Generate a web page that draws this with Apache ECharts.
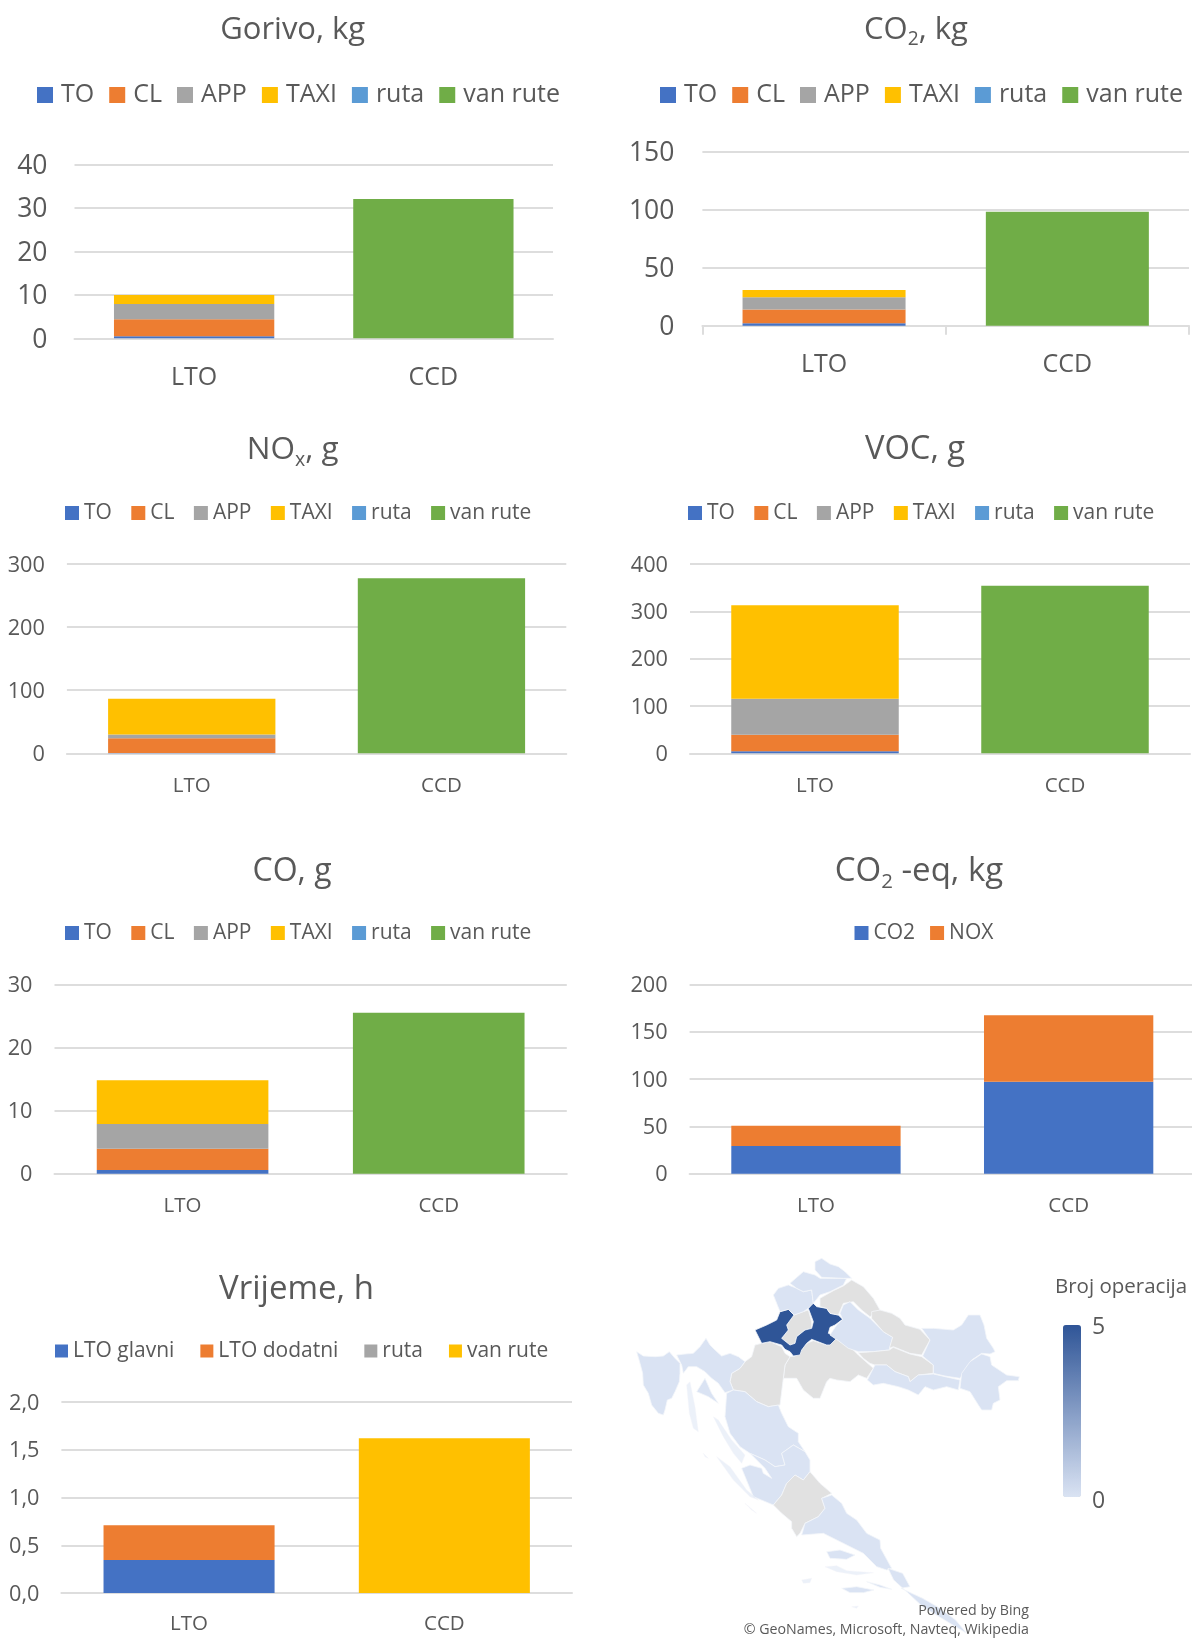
<!DOCTYPE html>
<html><head><meta charset="utf-8">
<style>html,body{margin:0;padding:0;background:#fff}#c{width:1192px;height:1638px}</style>
<script src="https://cdn.jsdelivr.net/npm/echarts@6/dist/echarts.min.js"></script>
</head><body><div id="c"></div>
<script>
// ---------- data ----------
const categories = ['LTO','CCD'];
const phaseNames = ['TO','CL','APP','TAXI','ruta','van rute'];
const eqNames = ['CO2','NOX'];
const timeNames = ['LTO glavni','LTO dodatni','ruta','van rute'];

const gorivoValues = [[0.5,0],[3.9,0],[3.5,0],[2.05,0],[0,0],[0,32]];
const co2Values    = [[2,0],[12,0],[10.4,0],[6.3,0],[0,0],[0,98]];
const noxValues    = [[0.5,0],[23.3,0],[5.8,0],[57,0],[0,0],[0,277.3]];
const vocValues    = [[4.2,0],[35.2,0],[76.1,0],[197.2,0],[0,0],[0,354]];
const coValues     = [[0.58,0],[3.38,0],[3.91,0],[6.93,0],[0,0],[0,25.5]];
const eqValues     = [[29.3,97],[21.4,70.3]];
const timeValues   = [[0.345,0],[0.364,0],[0,0],[0,1.62]];

const phaseColors = ['#4472C4','#ED7D31','#A5A5A5','#FFC000','#5B9BD5','#70AD47'];
const eqColors = ['#4472C4','#ED7D31'];
const timeColors = ['#4472C4','#ED7D31','#A5A5A5','#FFC000'];

const regionNames = ['Istra','Primorje','Lika','Zadar','Split','Dubrovnik','Krapina','Varazdin','Medimurje','Bjelovar','Brod','Osijek','Vukovar','ZagrebZup','Otoci'];
const regionOps   = [0,0,0,0,0,0,0,0,0,0,0,0,0,5,0];
const operationLabels = ['5','0'];

// outlines of the counties (no data values)
const regionShapes = {
 Sisak:[[[465,345],[480,320],[495,318],[515,300],[530,280],[550,272],[590,285],[615,262],[640,280],[670,300],[685,315],[730,355],[710,385],[685,375],[660,395],[620,390],[600,385],[590,395],[570,445],[550,445],[520,420],[500,385],[460,385]]],
 Karlovac:[[[305,370],[330,355],[345,335],[365,320],[375,285],[395,280],[420,275],[455,290],[465,310],[480,320],[465,345],[460,385],[450,465],[415,470],[380,455],[345,425],[310,420],[300,395]]],
 Istra:[[[20,305],[40,318],[75,320],[100,318],[118,305],[135,325],[150,340],[150,370],[148,395],[135,425],[125,445],[112,450],[105,480],[100,495],[85,490],[65,465],[55,430],[40,405],[38,370],[30,340]]],
 Primorje:[[[140,315],[165,312],[190,310],[210,290],[228,265],[240,285],[255,300],[275,318],[300,310],[325,320],[345,335],[330,355],[305,370],[300,395],[310,420],[285,428],[265,400],[245,385],[225,365],[200,350],[175,350],[160,370],[155,345]],
   [[200,425],[225,385],[245,430],[265,460],[235,440]]],
 Lika:[[[290,430],[310,420],[345,425],[380,455],[415,470],[445,465],[455,490],[475,530],[505,550],[505,575],[525,605],[490,585],[455,610],[465,645],[435,650],[405,630],[360,610],[330,590],[300,550],[285,500]]],
 Zadar:[[[335,655],[370,740],[430,765],[455,735],[470,700],[495,675],[520,690],[540,665],[540,630],[525,605],[490,585],[455,610],[465,645],[435,650],[405,630],[360,610],[405,655],[425,685],[400,670],[395,655],[360,645]]],
 Otoci:[[[170,405],[180,395],[195,470],[205,545],[190,535],[178,490]],
   [[250,500],[265,510],[305,570],[345,615],[335,640],[310,610],[280,560]],
   [[260,620],[300,650],[350,720],[385,750],[360,740],[310,690]],
   [[345,760],[380,790],[365,780]],
   [[220,610],[235,625],[225,620]],
   [[515,990],[545,985],[540,998],[520,1000]],
   [[665,1070],[685,1068],[680,1075]],
   [[585,950],[620,947],[650,962],[730,968],[680,975],[620,965]]],
 Sibenik:[[[430,765],[455,735],[470,700],[495,675],[520,690],[540,665],[570,700],[605,730],[575,745],[585,775],[565,800],[525,820],[510,850],[500,860],[485,835],[485,815],[455,790]]],
 Split:[[[605,735],[635,760],[650,790],[680,810],[710,850],[750,870],[752,895],[785,955],[770,960],[740,950],[700,910],[640,880],[580,850],[515,855],[525,820],[565,800],[585,775],[575,745]],
   [[590,905],[630,900],[675,915],[650,928],[600,925]]],
 Dubrovnik:[[[774,955],[818,970],[840,1010],[813,1015],[878,1045],[922,1070],[977,1110],[1010,1150],[960,1120],[878,1070],[835,1030],[791,990]],
   [[710,995],[750,1005],[785,1018],[750,1012]],
   [[635,1015],[680,1010],[732,1020],[700,1028],[660,1028]]],
 ZagrebGrad:[[[492,195],[520,185],[535,180],[545,215],[545,235],[525,240],[500,260],[495,280],[480,285],[455,265],[475,240],[470,225]]],
 ZagrebZup:[[[375,240],[410,225],[440,210],[450,185],[475,178],[492,195],[470,225],[475,240],[455,265],[480,285],[495,280],[500,260],[525,240],[545,235],[550,215],[535,175],[548,158],[560,170],[590,175],[600,190],[625,195],[638,208],[615,225],[600,232],[595,250],[600,252],[620,265],[600,285],[590,285],[545,268],[530,280],[515,300],[510,315],[490,318],[480,305],[465,298],[455,285],[420,275],[395,280]]],
 Krapina:[[[430,135],[445,115],[475,105],[500,115],[520,125],[545,120],[550,160],[535,175],[520,185],[492,195],[475,178],[450,185],[440,160]]],
 Varazdin:[[[480,100],[520,65],[555,75],[570,85],[600,85],[650,85],[640,105],[610,120],[600,125],[570,135],[550,160],[545,120],[520,125],[500,115]]],
 Medimurje:[[[555,35],[575,25],[600,42],[625,50],[645,65],[665,85],[640,85],[600,83],[575,82],[555,60]]],
 Koprivnica:[[[570,145],[610,122],[640,108],[665,90],[700,110],[730,145],[750,180],[720,200],[695,180],[670,155],[640,160],[625,195],[600,190],[590,175],[570,170]]],
 Bjelovar:[[[660,155],[685,180],[720,205],[760,245],[788,262],[778,300],[730,305],[685,305],[655,295],[625,272],[600,255],[620,225],[638,208],[630,190],[640,165]]],
 Virovitica:[[[725,185],[750,180],[785,190],[810,205],[825,225],[870,238],[900,270],[875,315],[840,310],[790,290],[778,295],[788,262],[760,245],[725,205]]],
 Pozega:[[[685,308],[730,305],[778,300],[790,292],[840,312],[875,320],[910,345],[910,370],[865,375],[840,395],[835,380],[795,365],[770,345],[735,345],[720,340],[700,325]]],
 Brod:[[[712,390],[735,345],[770,345],[795,365],[835,380],[840,395],[865,375],[910,372],[945,380],[990,390],[985,420],[950,410],[910,420],[885,410],[865,435],[835,420],[805,410],[760,400],[730,405]]],
 Osijek:[[[875,235],[910,235],[970,240],[995,225],[1015,195],[1050,195],[1062,225],[1070,265],[1090,295],[1095,305],[1080,312],[1055,310],[1025,330],[1015,350],[990,385],[945,378],[910,370],[910,345],[878,318],[900,270]]],
 Vukovar:[[[995,370],[1020,335],[1055,312],[1080,320],[1085,345],[1130,375],[1168,380],[1165,392],[1130,392],[1105,410],[1110,450],[1090,460],[1085,480],[1055,480],[1045,465],[1020,425],[990,415]]]
};

// ---------- layout ----------
const font = '"Open Sans"';
const textCol = '#595959';
const gridCol = '#DDDDDD';
const subRich = fs => ({s:{fontSize:fs*0.62,fontFamily:font,color:textCol,verticalAlign:'bottom',padding:[20,0,0,0]}});

const big = {axisFs:26.5, catFs:25, catMargin:27, labelMargin:27, lgFs:25, lgGap:15, lgIcon:16, lgPad:3, lblPad:4};
const small = {axisFs:21.7, catFs:20.5, catMargin:22, labelMargin:22, lgFs:21, lgGap:19.4, lgIcon:14, lgPad:0, lblPad:3};

const panels = [
 {...big, title:'Gorivo, kg', tfs:31, tx:292.7, ty:30, names:phaseNames, colors:phaseColors, values:gorivoValues, max:40, step:10,
  x0:74.5, x1:553, yTop:164.3, y0:338.3, lgLeft:37, lgY:95},
 {...big, title:'CO{s|2}, kg', tfs:31, tx:916, ty:30, names:phaseNames, colors:phaseColors, values:co2Values, max:150, step:50,
  x0:702.4, x1:1189, yTop:151.3, y0:325.7, lgLeft:660, lgY:95, ticks:true, labelMargin:28},
 {...small, title:'NO{s|x}, g', tfs:31.5, tx:292.7, ty:450, names:phaseNames, colors:phaseColors, values:noxValues, max:300, step:100,
  x0:66.9, x1:566.3, yTop:564, y0:753.3, lgLeft:65, lgY:513},
 {...small, title:'VOC, g', tfs:32.7, tx:915, ty:450, names:phaseNames, colors:phaseColors, values:vocValues, max:400, step:100,
  x0:690, x1:1190, yTop:564, y0:753.3, lgLeft:688, lgY:513},
 {...small, title:'CO, g', tfs:32, tx:292, ty:872, names:phaseNames, colors:phaseColors, values:coValues, max:30, step:10,
  x0:54.5, x1:566.8, yTop:984.3, y0:1173.7, lgLeft:65, lgY:933},
 {...small, title:'CO{s|2} -eq, kg', tfs:33, tx:919, ty:872, names:eqNames, colors:eqColors, values:eqValues, max:200, step:50,
  x0:689.6, x1:1195, yTop:984.3, y0:1173.7, lgLeft:854.5, lgY:933, lgGap:15},
 {...small, title:'Vrijeme, h', tfs:33, tx:296.5, ty:1290, names:timeNames, colors:timeColors, values:timeValues, max:2, step:0.5, comma:true,
  x0:61.4, x1:572, yTop:1402, y0:1593, lgLeft:55, lgY:1351, lgGap:26, lgIcon:13, lgFs:21, catMargin:21}
];

// ---------- map geometry ----------
const toPx = p => [630+p[0]/3, -(1250+p[1]/3)];
const features = Object.keys(regionShapes).map(name => ({
  type:'Feature', properties:{name},
  geometry:{type:'MultiPolygon', coordinates: regionShapes[name].map(r => { const ring=r.map(toPx); ring.push(ring[0]); return [ring]; })}
}));
echarts.registerMap('hr',{type:'FeatureCollection',features});
let minX=1e9,maxX=-1e9,minY=1e9,maxY=-1e9;
features.forEach(f=>f.geometry.coordinates.forEach(pg=>pg[0].forEach(([x,y])=>{
  minX=Math.min(minX,x);maxX=Math.max(maxX,x);minY=Math.min(minY,-y);maxY=Math.max(maxY,-y);
})));

// ---------- option ----------
const option = {animation:false, backgroundColor:'#fff', textStyle:{fontFamily:font},
  title:[],legend:[],grid:[],xAxis:[],yAxis:[],series:[]};

panels.forEach((p,i)=>{
  option.title.push({text:p.title,left:p.tx,top:p.ty,textAlign:'center',textVerticalAlign:'middle',padding:0,
    textStyle:{fontFamily:font,fontSize:p.tfs,fontWeight:'normal',color:textCol,rich:subRich(p.tfs)}});
  option.legend.push({left:p.lgLeft,top:p.lgY-p.lgFs/2,padding:0,itemGap:p.lgGap,itemWidth:p.lgIcon,itemHeight:p.lgIcon,icon:'rect',
    selectedMode:false,
    data:p.names.map((n,k)=>({name:n,icon:'rect',itemStyle:{color:p.colors[k]}})),
    textStyle:{fontFamily:font,fontSize:p.lgFs,color:textCol,padding:[2,0,0,p.lgPad]}});
  option.grid.push({left:p.x0,top:p.yTop,width:p.x1-p.x0,height:p.y0-p.yTop,outerBoundsMode:'none'});
  option.xAxis.push({type:'category',gridIndex:i,data:categories,
    axisLine:{lineStyle:{color:gridCol,width:2}},
    axisTick:{show:!!p.ticks,length:9,lineStyle:{color:gridCol,width:2}},
    axisLabel:{fontFamily:font,fontSize:p.catFs,color:textCol,margin:p.catMargin}});
  option.yAxis.push({type:'value',gridIndex:i,min:0,max:p.max,interval:p.step,
    axisLine:{show:false},axisTick:{show:false},
    splitLine:{lineStyle:{color:gridCol,width:2}},
    axisLabel:{fontFamily:font,fontSize:p.axisFs,color:textCol,margin:p.labelMargin,
      rich:{v:{fontFamily:font,fontSize:p.axisFs,color:textCol,padding:[p.lblPad,0,0,0]}},
      formatter:v=>'{v|'+(p.comma?v.toFixed(1).replace('.',','):v)+'}'}});
  p.names.forEach((n,k)=>option.series.push({type:'bar',name:n,xAxisIndex:i,yAxisIndex:i,stack:'s'+i,barWidth:'67%',
    data:p.values[k],itemStyle:{color:p.colors[k]},silent:true}));
});

const mapIndex = option.series.length;
option.series.push({type:'map',map:'hr',left:minX,top:minY,width:maxX-minX,height:maxY-minY,aspectScale:1,roam:false,silent:true,
  showLegendSymbol:false,
  label:{show:false},emphasis:{disabled:true},select:{disabled:true},
  itemStyle:{areaColor:'#E1E1E1',borderColor:'#F4F6FA',borderWidth:0.8},
  data:regionNames.map((n,i)=>({name:n,value:regionOps[i],itemStyle:n==='Otoci'?{opacity:0.5}:undefined}))});

option.visualMap=[{type:'continuous',seriesIndex:mapIndex,min:0,max:5,left:1063,top:1325,itemWidth:18,itemHeight:172,padding:0,
  calculable:false,text:null,inRange:{color:['#DAE3F3','#2F5597']},hoverLink:false}];

const txt=(t,x,y,fs,align)=>({type:'text',x,y,style:{text:t,x:0,y:0,fontFamily:font,fontSize:fs,fill:textCol,align:align||'left',verticalAlign:'middle'},silent:true,z:20});
option.graphic=[
  txt('Broj operacija',1055,1287,20.5),
  txt(operationLabels[0],1092,1327,23),
  txt(operationLabels[1],1092,1501,23),
  txt('Powered by Bing',1029,1611,14.2,'right'),
  txt('© GeoNames, Microsoft, Navteq, Wikipedia',1029,1630,14.2,'right')
];

echarts.init(document.getElementById('c'),null,{renderer:'canvas'}).setOption(option);
</script></body></html>
